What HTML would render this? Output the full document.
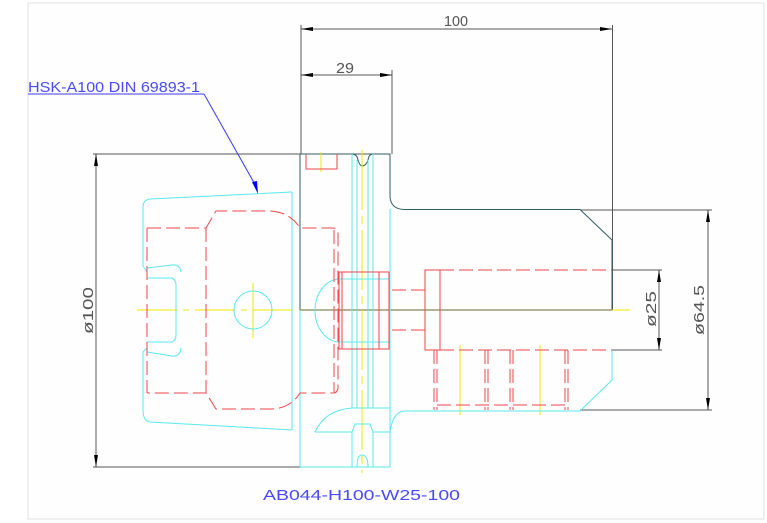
<!DOCTYPE html>
<html><head><meta charset="utf-8"><style>
html,body{margin:0;padding:0;background:#fff;}
svg{display:block;}
text{font-family:"Liberation Sans",sans-serif;}
</style></head><body>
<svg width="767" height="523" viewBox="0 0 767 523" xmlns="http://www.w3.org/2000/svg">
<rect x="0" y="0" width="767" height="523" fill="#fff"/>
<rect x="28" y="3" width="736" height="516" fill="#fdfefd" stroke="#e0e0e0" stroke-width="1"/>
<g fill="none" stroke-width="1">
<g stroke="#555">
<line x1="301" y1="25" x2="301" y2="154"/>
<line x1="392" y1="70" x2="392" y2="154"/>
<line x1="612.5" y1="25" x2="612.5" y2="310"/>
<line x1="301" y1="29" x2="612" y2="29"/>
<line x1="301" y1="75" x2="392" y2="75"/>
<line x1="93" y1="154" x2="390" y2="154"/>
<line x1="93" y1="467" x2="300" y2="467"/>
<line x1="96" y1="154" x2="96" y2="467"/>
<line x1="580" y1="210" x2="712" y2="210"/>
<line x1="580" y1="410" x2="712" y2="410"/>
<line x1="708" y1="210" x2="708" y2="410"/>
<line x1="612" y1="270" x2="662" y2="270"/>
<line x1="612" y1="350" x2="662" y2="350"/>
<line x1="659" y1="270" x2="659" y2="350"/>
</g>
<g fill="#000" stroke="none">
<polygon points="301,29 313,27 313,31"/><polygon points="612,29 600,27 600,31"/>
<polygon points="301,75 313,73 313,77"/><polygon points="392,75 380,73 380,77"/>
<polygon points="96,154 94,166 98,166"/><polygon points="96,467 94,455 98,455"/>
<polygon points="708,210 706,222 710,222"/><polygon points="708,410 706,398 710,398"/>
<polygon points="659,270 657,282 661,282"/><polygon points="659,350 657,338 661,338"/>
</g>
<g stroke="#2f5f66">
<line x1="300" y1="154" x2="300" y2="310"/>
<path d="M301 154 H352 Q357 154 358 160 Q360 166 362 166 Q366 166 368 160 Q369 154 373 154 H390 V197 Q391 209 404 209.5 H580 L612 240 V310"/>
</g>
<line x1="300" y1="310" x2="612" y2="310" stroke="#6b6b2a"/>
<g stroke="#f2e600">
<line x1="137" y1="310" x2="300" y2="310" stroke-dasharray="40,6,6,6"/>
<line x1="612" y1="310" x2="630" y2="310"/>
<line x1="362" y1="150" x2="362" y2="473" stroke-dasharray="60,6,8,6"/>
<line x1="253" y1="283" x2="253" y2="338"/>
<line x1="321" y1="152" x2="321" y2="172"/>
<line x1="460" y1="345" x2="460" y2="415"/>
<line x1="540" y1="345" x2="540" y2="415"/>
</g>
<g stroke="#5ae8f0">
<path d="M292 192 L150 199 Q143 200 143 207 V266 L147 272 V278 H172 Q176 280 176 285 V335 Q176 340 172 342 H147 V348 L143 352 V410 Q143 421 150 422 L292 430"/>
<path d="M147 268 L172 265 Q180 264 181 272"/>
<path d="M147 352 L172 356 Q180 357 181 348"/>
<line x1="292" y1="192" x2="292" y2="430"/>
<line x1="300" y1="310" x2="300" y2="467"/>
<line x1="300" y1="467" x2="390" y2="467"/>
<line x1="352" y1="154" x2="352" y2="408"/>
<line x1="357" y1="160" x2="357" y2="408"/>
<line x1="368" y1="160" x2="368" y2="408"/>
<line x1="373" y1="154" x2="373" y2="408"/>
<line x1="390" y1="209" x2="390" y2="467"/>
<path d="M315 432 Q325 410 352 408 H390"/>
<path d="M315 432 H352 V467 M373 432 H390 M352 432 L355 424 H370 L373 432 V467 M357 467 Q357 455 362 455 Q368 455 368 467"/>
<path d="M390 432 Q393 411 405 411 H580 L612 380 V350"/>
<circle cx="253" cy="310" r="19"/>
<path d="M340 279 H390 M340 342 H390 M340 279 A25 31.5 0 0 0 340 342"/>
</g>
<g stroke="#f0474d" stroke-dasharray="14,5">
<path d="M147 228 H206 L216 211 H270 Q290 212 300 228 H333 Q338 228 338 234 V387 Q338 393 333 393 H300 Q290 409 270 409 H216 L206 393 H147"/>
<line x1="206" y1="228" x2="206" y2="393"/>
<line x1="147" y1="228" x2="147" y2="393"/>
<line x1="334" y1="230" x2="334" y2="392"/>
<line x1="392" y1="290" x2="425" y2="290"/><line x1="392" y1="330" x2="425" y2="330"/>
<path d="M440 270 H612 M440 350 H612"/>
<line x1="425" y1="270" x2="425" y2="350"/><line x1="440" y1="270" x2="440" y2="350"/>
<line x1="434" y1="350" x2="434" y2="410"/><line x1="437" y1="350" x2="437" y2="410"/>
<line x1="485" y1="350" x2="485" y2="410"/><line x1="488" y1="350" x2="488" y2="410"/>
<line x1="510" y1="350" x2="510" y2="410"/><line x1="513" y1="350" x2="513" y2="410"/>
<line x1="565" y1="350" x2="565" y2="410"/><line x1="568" y1="350" x2="568" y2="410"/>
<line x1="437" y1="405" x2="568" y2="405"/>
</g>
<g stroke="#f0474d">
<rect x="339" y="272" width="50" height="77"/>
<line x1="342" y1="272" x2="342" y2="349"/><line x1="379" y1="272" x2="379" y2="349"/>
<rect x="425" y="270" width="15" height="80"/>
<path d="M306 154 V169 H337 V154"/>
</g>
<g stroke="#3a3aff">
<line x1="28" y1="94" x2="204" y2="94"/>
<line x1="204" y1="94" x2="257" y2="188"/>
</g>
<polygon points="258,194 252,182 257,181" fill="#0000ff"/>
</g>
<g font-size="15" fill="#555">
<text x="444" y="26" textLength="24" lengthAdjust="spacingAndGlyphs">100</text>
<text x="336" y="73" textLength="18" lengthAdjust="spacingAndGlyphs">29</text>
<text transform="translate(93,334) rotate(-90)" textLength="47" lengthAdjust="spacingAndGlyphs">ø100</text>
<text transform="translate(656,327) rotate(-90)" textLength="36" lengthAdjust="spacingAndGlyphs">ø25</text>
<text transform="translate(704,335) rotate(-90)" textLength="50" lengthAdjust="spacingAndGlyphs">ø64.5</text>
</g>
<text x="28" y="92" font-size="15" fill="#4a4aff" textLength="172" lengthAdjust="spacingAndGlyphs">HSK-A100 DIN 69893-1</text>
<text x="263" y="500" font-size="15" fill="#4a4aff" textLength="197" lengthAdjust="spacingAndGlyphs">AB044-H100-W25-100</text>
</svg>
</body></html>
